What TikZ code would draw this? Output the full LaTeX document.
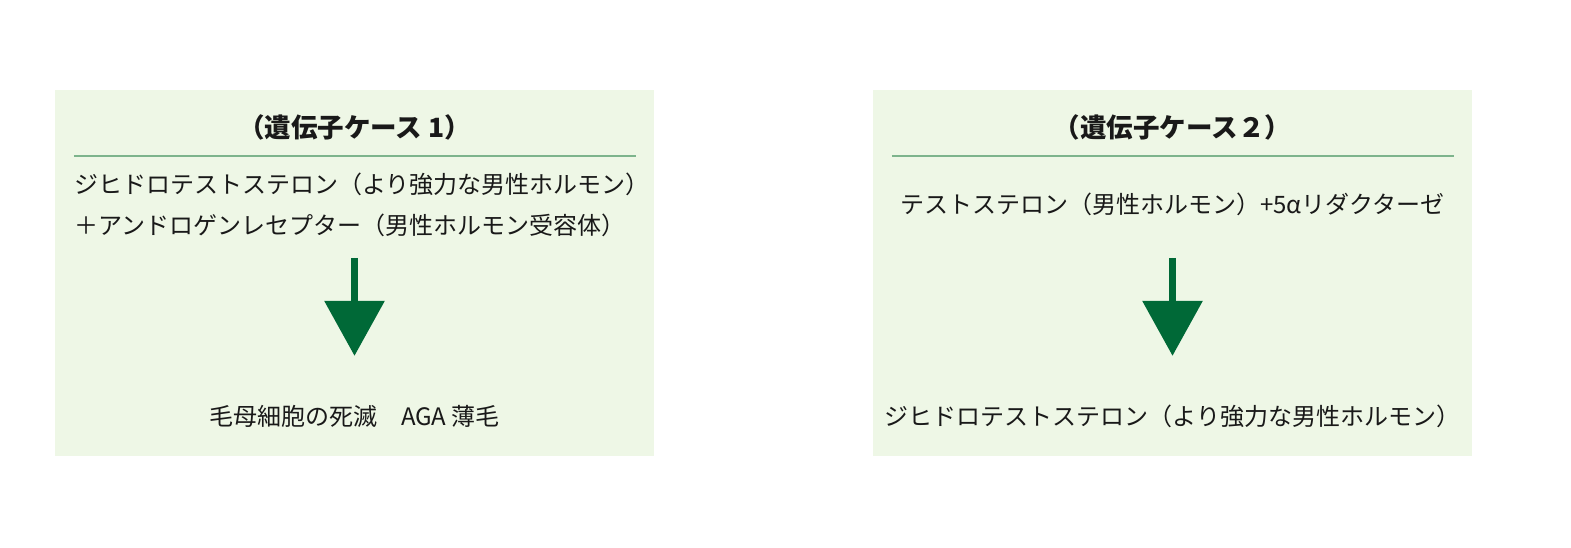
\documentclass[tikz,border=0pt]{standalone}
\usepackage{fontspec}
\newfontfamily\jp{Noto Sans CJK JP}
\usepackage{tikz}
\usetikzlibrary{arrows.meta,positioning}
\definecolor{boxfill}{RGB}{238,247,230}
\definecolor{rulegreen}{RGB}{125,180,140}
\definecolor{arrowgreen}{RGB}{0,105,55}

\begin{document}
\begin{tikzpicture}
	[ x=1pt, y=-1pt,
		casebox/.style={rectangle,fill=boxfill,minimum width=599pt,minimum height=366pt,inner sep=0pt},
		title/.style={font=\jp\bfseries\fontsize{26.5}{31}\selectfont,inner sep=0pt,text height=21pt,text depth=4pt,text=black!90},
		body/.style={font=\jp\fontsize{24}{29}\selectfont,inner sep=0pt,text height=19pt,text depth=5pt,text=black!90},
		rule/.style={draw=rulegreen,line width=1.7pt},
		arrowDown/.style={-{Triangle[width=59pt,length=55pt]},line width=6.5pt,draw=arrowgreen,fill=arrowgreen}]

	\useasboundingbox (0,0) rectangle (1571,548);

	% case 1
	\node[casebox] (case one) at (354.5,273) {};
	\node[title] (title one) [below=27pt of case one.north] {（遺伝子ケース 1）};
	\draw[rule] ([xshift=19pt,yshift=-66pt]case one.north west) -- ([xshift=-18pt,yshift=-66pt]case one.north east);
	\node[body] (dht one) [below right=85pt and 19pt of case one.north west] {ジヒドロテストステロン（より強力な男性ホルモン）};
	\node[body] (receptor) [below right=16pt and 0pt of dht one.south west] {＋アンドロゲンレセプター（男性ホルモン受容体）};
	\coordinate[below=168pt of case one.north] (from one);
	\coordinate[below=98pt of from one] (to one);
	\node[body] (hair loss) [below=316pt of case one.north] {毛母細胞の死滅　AGA 薄毛};
	\draw[arrowDown] (from one) -- (to one);

	% case 2
	\node[casebox] (case two) at (1172.5,273) {};
	\node[title] (title two) [below=27pt of case two.north] {（遺伝子ケース２）};
	\draw[rule] ([xshift=19pt,yshift=-66pt]case two.north west) -- ([xshift=-18pt,yshift=-66pt]case two.north east);
	\node[body] (testosterone) [below=105pt of case two.north] {テストステロン（男性ホルモン）+5αリダクターゼ};
	\coordinate[below=168pt of case two.north] (from two);
	\coordinate[below=98pt of from two] (to two);
	\node[body] (dht two) [below=316pt of case two.north] {ジヒドロテストステロン（より強力な男性ホルモン）};
	\draw[arrowDown] (from two) -- (to two);
\end{tikzpicture}
\end{document}
